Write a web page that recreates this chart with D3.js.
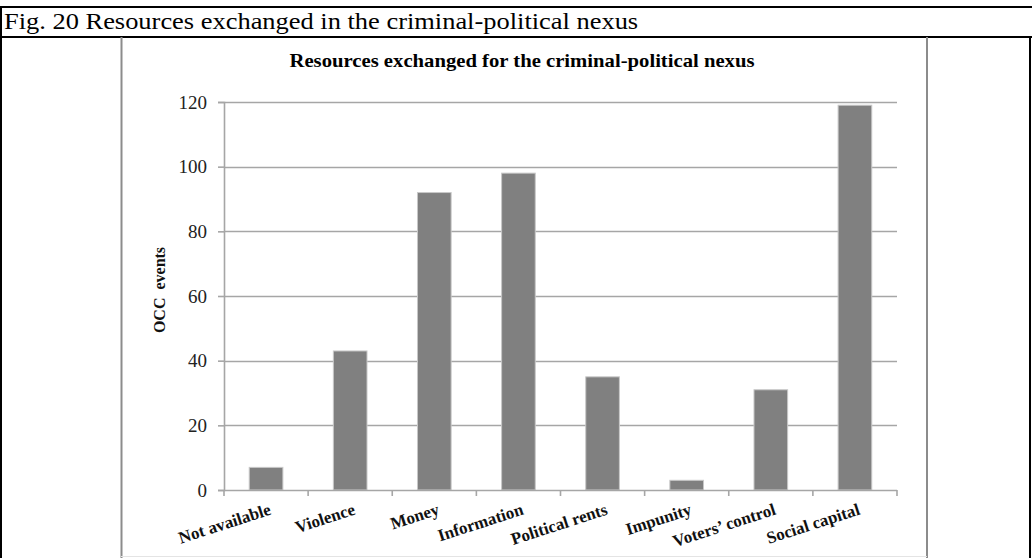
<!DOCTYPE html>
<html>
<head>
<meta charset="utf-8">
<script src="https://cdn.jsdelivr.net/npm/d3@7"></script>
<style>
  html, body { margin: 0; padding: 0; background: #fff; }
  svg { display: block; }
</style>
</head>
<body>
<div id="chart"></div>
<script>
// Resources exchanged for the criminal-political nexus (OCC events)
const categories = ["Not available", "Violence", "Money", "Information", "Political rents", "Impunity", "Voters\u2019 control", "Social capital"];
const occEvents = [7, 43, 92, 98, 35, 3, 31, 119];
const yTicks = [0, 20, 40, 60, 80, 100, 120];
const captionText = "Fig. 20 Resources exchanged in the criminal-political nexus";
const chartTitle = "Resources exchanged for the criminal-political  nexus";
const yAxisTitle = "OCC  events";

const W = 1032, H = 558;
const svg = d3.select("#chart").append("svg")
  .attr("width", W).attr("height", H);

const serif = "'Liberation Serif', 'Times New Roman', serif";
const wide = 1.15; // horizontal widening of the heading texts

// table frame around the figure
svg.append("line").attr("x1", 0).attr("x2", W).attr("y1", 7).attr("y2", 7)
  .attr("stroke", "#000").attr("stroke-width", 2);
svg.append("line").attr("x1", 0).attr("x2", W).attr("y1", 37).attr("y2", 37)
  .attr("stroke", "#000").attr("stroke-width", 2);
svg.append("line").attr("x1", 1).attr("x2", 1).attr("y1", 6).attr("y2", H)
  .attr("stroke", "#000").attr("stroke-width", 2);
svg.append("line").attr("x1", 1030).attr("x2", 1030).attr("y1", 37).attr("y2", H)
  .attr("stroke", "#000").attr("stroke-width", 2);

svg.append("text")
  .attr("transform", `translate(4,29) scale(${wide},1)`)
  .attr("font-family", serif).attr("font-size", 23)
  .attr("fill", "#000")
  .text(captionText);

// chart area border
svg.append("line").attr("x1", 121.5).attr("x2", 121.5).attr("y1", 37).attr("y2", H)
  .attr("stroke", "#8c8c8c").attr("stroke-width", 2);
svg.append("line").attr("x1", 927).attr("x2", 927).attr("y1", 37).attr("y2", H)
  .attr("stroke", "#8c8c8c").attr("stroke-width", 2);
svg.append("line").attr("x1", 121).attr("x2", 927).attr("y1", 556.5).attr("y2", 556.5)
  .attr("stroke", "#e4e4e4").attr("stroke-width", 1);

svg.append("text")
  .attr("transform", `translate(522,67) scale(${wide},1)`)
  .attr("text-anchor", "middle")
  .attr("font-family", serif).attr("font-size", 18).attr("font-weight", "bold")
  .attr("fill", "#000")
  .text(chartTitle);

// plot area
const plot = { left: 224, right: 897, top: 102, bottom: 490 };

const x = d3.scaleBand()
  .domain(categories)
  .range([plot.left, plot.right])
  .paddingInner(0.6)
  .paddingOuter(0.3);

const y = d3.scaleLinear()
  .domain([0, 120])
  .range([plot.bottom, plot.top]);

const gridColor = "#a6a6a6";

// horizontal gridlines
svg.append("g")
  .selectAll("line")
  .data(yTicks.filter(d => d > 0))
  .join("line")
  .attr("x1", plot.left).attr("x2", plot.right)
  .attr("y1", d => Math.round(y(d)) + 0.5).attr("y2", d => Math.round(y(d)) + 0.5)
  .attr("stroke", gridColor).attr("stroke-width", 1.6);

// bars
svg.append("g")
  .selectAll("rect")
  .data(categories)
  .join("rect")
  .attr("x", d => x(d))
  .attr("width", x.bandwidth())
  .attr("y", (d, i) => y(occEvents[i]))
  .attr("height", (d, i) => plot.bottom - y(occEvents[i]))
  .attr("fill", "#808080")
  .attr("stroke", "#c8c8c8")
  .attr("stroke-width", 1);

// y axis
const yAxis = d3.axisLeft(y)
  .tickValues(yTicks)
  .tickSize(6)
  .tickPadding(11)
  .tickFormat(d3.format("d"));

const gy = svg.append("g")
  .attr("transform", `translate(${plot.left},0)`)
  .call(yAxis);
gy.select(".domain").attr("stroke", gridColor).attr("stroke-width", 1.6);
gy.selectAll(".tick line").attr("stroke", gridColor).attr("stroke-width", 1.6);
gy.selectAll(".tick text")
  .attr("font-family", serif).attr("font-size", 19)
  .attr("fill", "#222");

// x axis with boundary ticks between categories
const xAxisG = svg.append("g").attr("transform", `translate(0,${plot.bottom})`);
xAxisG.append("line")
  .attr("x1", plot.left).attr("x2", plot.right)
  .attr("y1", 0.5).attr("y2", 0.5)
  .attr("stroke", gridColor).attr("stroke-width", 1.6);
const step = x.step();
xAxisG.selectAll("line.bound")
  .data(d3.range(categories.length + 1))
  .join("line")
  .attr("class", "bound")
  .attr("x1", i => plot.left + i * step).attr("x2", i => plot.left + i * step)
  .attr("y1", 0).attr("y2", 6)
  .attr("stroke", gridColor).attr("stroke-width", 1.6);

xAxisG.selectAll("text.cat")
  .data(categories)
  .join("text")
  .attr("class", "cat")
  .attr("text-anchor", "end")
  .attr("transform", d => `translate(${x(d) + x.bandwidth() / 2 + 2},${12}) rotate(-18)`)
  .attr("dy", "0.75em")
  .attr("font-family", serif).attr("font-size", 17).attr("font-weight", "bold")
  .attr("fill", "#111")
  .text(d => d);

// y axis title
svg.append("text")
  .attr("transform", "translate(165,290) rotate(-90)")
  .attr("text-anchor", "middle")
  .attr("font-family", serif).attr("font-size", 16).attr("font-weight", "bold")
  .attr("fill", "#111")
  .attr("xml:space", "preserve")
  .style("white-space", "pre")
  .text(yAxisTitle);
</script>
</body>
</html>
